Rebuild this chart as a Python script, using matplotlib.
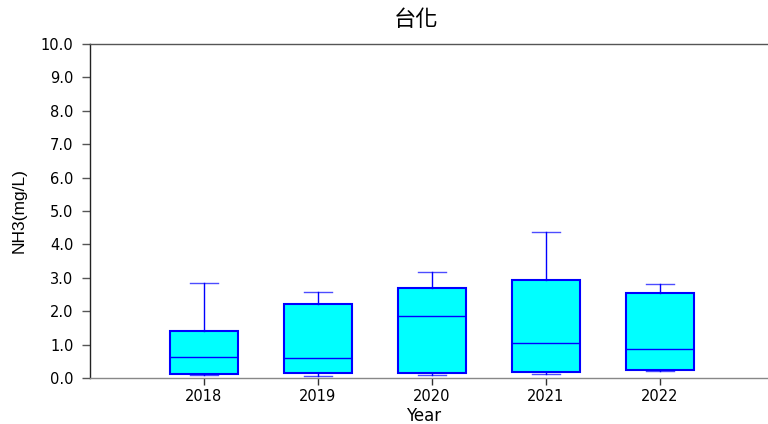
import matplotlib
matplotlib.use("Agg")
import matplotlib.pyplot as plt

plt.rcParams['font.family'] = ['Liberation Sans', 'Noto Sans CJK TC', 'DejaVu Sans']

years = ["2018", "2019", "2020", "2021", "2022"]
whisker_low = [0.08, 0.05, 0.08, 0.12, 0.20]
q1 = [0.13, 0.14, 0.14, 0.19, 0.23]
median = [0.62, 0.59, 1.85, 1.04, 0.87]
q3 = [1.41, 2.22, 2.69, 2.93, 2.54]
whisker_high = [2.85, 2.58, 3.16, 4.37, 2.82]

stats = []
for i, y in enumerate(years):
    stats.append({
        "label": y,
        "whislo": whisker_low[i],
        "q1": q1[i],
        "med": median[i],
        "q3": q3[i],
        "whishi": whisker_high[i],
        "fliers": [],
    })

W, H = 768, 424
fig = plt.figure(figsize=(W / 100, H / 100), dpi=100)
ax = fig.add_axes([90 / W, (H - 378) / H, 678 / W, 334 / H])

ax.bxp(stats, positions=range(1, 6), widths=0.6, patch_artist=True,
       boxprops=dict(facecolor="#00FFFF", edgecolor="#0000FF", linewidth=1.5),
       medianprops=dict(color="#0000FF", linewidth=1.0),
       whiskerprops=dict(color="#0000FF", linewidth=1.0),
       capprops=dict(color="#0000FF", linewidth=1.0, alpha=0.7),
       capwidths=0.24)

ax.set_xlim(0, 678 / 114)
ax.set_ylim(0, 10)
ax.set_yticks([i for i in range(11)])
ax.set_yticklabels([f"{i:.1f}" for i in range(11)], family="DejaVu Sans")
ax.set_xticks(range(1, 6))
ax.set_xticklabels(years, family="DejaVu Sans")

ax.spines["right"].set_visible(False)
ax.spines["top"].set_color("#555555")
ax.spines["bottom"].set_color("#888888")
ax.spines["left"].set_color("#222222")
for s in ax.spines.values():
    s.set_linewidth(1.0)
ax.tick_params(axis="y", direction="out", length=6, width=1, color="#555555",
               labelsize=10.5, pad=6)
ax.tick_params(axis="x", direction="out", length=5, width=1, color="#333333",
               labelsize=10.5, pad=3)

ax.set_ylabel("NH3(mg/L)", fontsize=12.5, labelpad=10)
ax.set_xlabel("Year", fontsize=12, family="DejaVu Sans", va="top")
ax.xaxis.set_label_coords((424 - 90) / 678, -0.086)
fig.text(416 / W, 1 - 20 / H, "台化", ha="center", va="center", fontsize=16,
         family=["Noto Sans CJK TC", "DejaVu Sans"])

fig.savefig("out.png", dpi=100)
plt.close(fig)
